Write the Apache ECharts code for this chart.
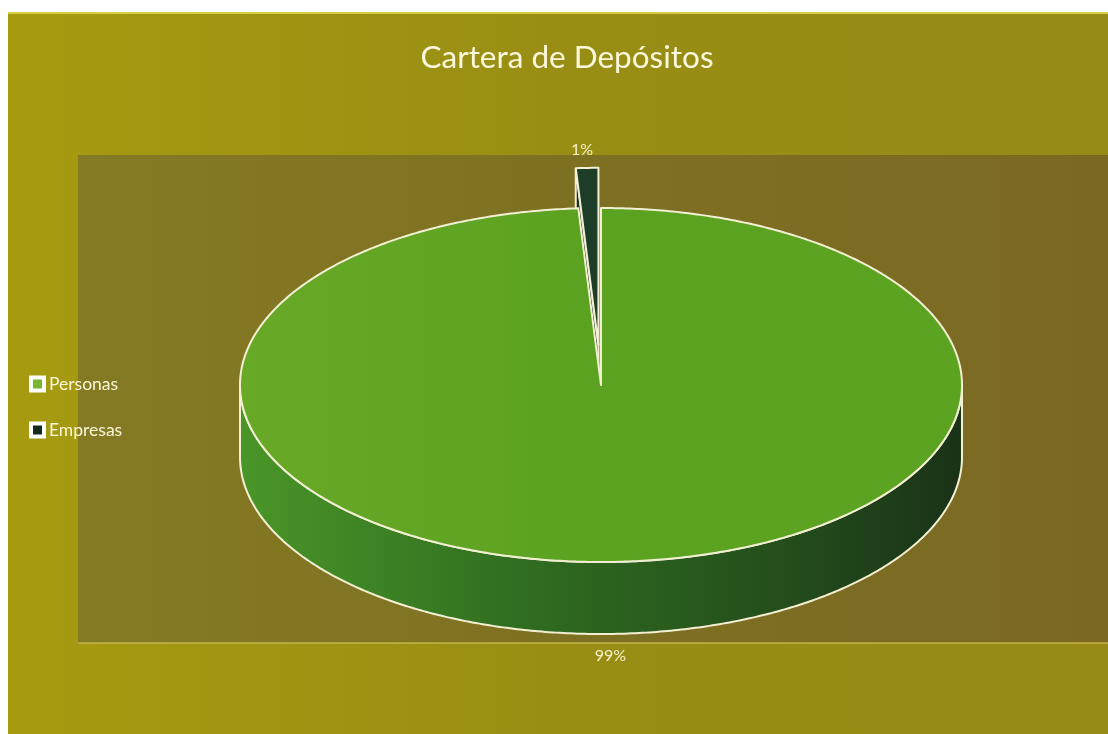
<!DOCTYPE html>
<html>
<head>
<meta charset="utf-8">
<script src="https://cdn.jsdelivr.net/npm/echarts@6/dist/echarts.min.js"></script>
<style>
html,body{margin:0;padding:0;background:#fff;}
#chart{width:1108px;height:734px;}
</style>
</head>
<body>
<div id="chart"></div>
<script>
// ---- data ----
const categories = ['Personas', 'Empresas'];
const values = [99, 1];
const valueLabels = ['99%', '1%'];
const chartTitle = 'Cartera de Depósitos';

// ---- geometry of the 3D pie (layout) ----
const CX = 601, CY = 385, RX = 361, RY = 177, DEPTH = 72;
const FONT = 'Lato, "Open Sans", sans-serif';
const EDGE = '#f3efd2';

const total = values.reduce((a, b) => a + b, 0);
const startAngles = [];
{
  let acc = 0;
  values.forEach(v => { startAngles.push(acc / total * Math.PI * 2); acc += v; });
}

function pt(t, ox, oy, down) {
  return [CX + ox + RX * Math.sin(t), CY + oy - RY * Math.cos(t) + (down || 0)];
}
function arc(a0, a1, ox, oy, down) {
  const pts = [];
  const n = Math.max(2, Math.ceil(Math.abs(a1 - a0) / 0.01));
  for (let i = 0; i <= n; i++) pts.push(pt(a0 + (a1 - a0) * i / n, ox, oy, down));
  return pts;
}

function makeRender(idx, st) {
  return function (params, api) {
    const v = api.value(0);
    const a0 = startAngles[idx];
    const a1 = a0 + v / total * Math.PI * 2;
    const am = (a0 + a1) / 2;
    const ox = st.explode * Math.sin(am);
    const oy = -st.explode * Math.cos(am) * RY / RX;
    const children = [];
    // outer side wall (front half only)
    const s0 = Math.max(a0, Math.PI / 2), s1 = Math.min(a1, Math.PI * 1.5);
    if (s1 > s0) {
      const top = arc(s0, s1, ox, oy, 0);
      const bot = arc(s0, s1, ox, oy, DEPTH).reverse();
      children.push({
        type: 'polygon',
        shape: { points: top.concat(bot) },
        style: {
          fill: { type: 'linear', x: CX - RX, y: 0, x2: CX + RX, y2: 0, global: true,
                  colorStops: st.sideStops },
          stroke: EDGE, lineWidth: 2
        }
      });
    }
    // cut face at start edge (visible when exploded)
    if (st.explode > 0) {
      const c = [CX + ox, CY + oy];
      const e = pt(a0, ox, oy, 0);
      children.push({
        type: 'polygon',
        shape: { points: [c, e, [e[0], e[1] + DEPTH], [c[0], c[1] + DEPTH]] },
        style: { fill: st.cutColor, stroke: EDGE, lineWidth: 2 }
      });
    }
    // top face
    const pts = [[CX + ox, CY + oy]].concat(arc(a0, a1, ox, oy, 0));
    children.push({
      type: 'polygon',
      shape: { points: pts },
      style: {
        fill: { type: 'linear', x: CX - RX, y: 0, x2: CX + RX, y2: 0, global: true,
                colorStops: st.topStops },
        stroke: EDGE, lineWidth: 2, lineJoin: 'round'
      }
    });
    // data label
    const lp = pt(am, ox, oy, 0);
    const back = Math.cos(am) > 0;
    children.push({
      type: 'text',
      style: {
        text: valueLabels[idx],
        x: lp[0] + (back ? -5 : -2),
        y: back ? lp[1] - 18 : lp[1] + DEPTH + 22,
        fill: '#f7f0c8', font: '16px ' + FONT,
        align: 'center', verticalAlign: 'middle'
      }
    });
    return { type: 'group', children: children };
  };
}

const styles = [
  { explode: 0,
    topStops: [{ offset: 0, color: '#68a927' }, { offset: 0.5, color: '#5ba221' }, { offset: 1, color: '#5ca322' }],
    sideStops: [{ offset: 0, color: '#4a9628' }, { offset: 0.4, color: '#2f6c20' }, { offset: 0.75, color: '#244e1c' }, { offset: 1, color: '#1a3217' }],
    cutColor: '#2a5a1e', legendColor: '#7ab830', z: 3 },
  { explode: 82,
    topStops: [{ offset: 0, color: '#1d3d28' }, { offset: 1, color: '#1d3d28' }],
    sideStops: [{ offset: 0, color: '#16301f' }, { offset: 1, color: '#16301f' }],
    cutColor: '#163021', legendColor: '#132a1c', z: 2 }
];

const chart = echarts.init(document.getElementById('chart'), null, { renderer: 'canvas' });
chart.setOption({
  backgroundColor: '#ffffff',
  animation: false,
  graphic: [
    { type: 'rect', z: 0, shape: { x: 8, y: 12, width: 1100, height: 722 },
      style: { fill: { type: 'linear', x: 0, y: 0, x2: 1, y2: 0,
        colorStops: [{ offset: 0, color: '#a69b10' }, { offset: 0.5, color: '#988e14' }, { offset: 1, color: '#958b16' }] } } },
    { type: 'line', z: 0, shape: { x1: 8, y1: 13, x2: 1108, y2: 13 }, style: { stroke: '#d8cc40', lineWidth: 2 } },
    { type: 'rect', z: 0, shape: { x: 78, y: 155, width: 1030, height: 488 },
      style: { fill: { type: 'linear', x: 0, y: 0, x2: 1, y2: 0,
        colorStops: [{ offset: 0, color: '#857a24' }, { offset: 0.5, color: '#7e7022' }, { offset: 1, color: '#7b6923' }] } } },
    { type: 'line', z: 0, shape: { x1: 78, y1: 643, x2: 1108, y2: 643 }, style: { stroke: '#c4b648', lineWidth: 1.5 } },
    { type: 'text', z: 1, style: { text: chartTitle, x: 567, y: 58, align: 'center', verticalAlign: 'middle',
        fill: '#fbf7dc', font: '31.5px ' + FONT } }
  ],
  legend: {
    orient: 'vertical', left: 29, top: 375, padding: 0,
    itemWidth: 13, itemHeight: 13, itemGap: 28,
    textStyle: { color: '#fbf6d6', fontSize: 17.5, fontFamily: FONT },
    data: categories.map((c, i) => ({ name: c, icon: 'rect',
      itemStyle: { color: styles[i].legendColor, borderColor: '#ffffff', borderWidth: 4 } }))
  },
  series: categories.map((c, i) => ({
    type: 'custom', name: c, coordinateSystem: 'none', z: styles[i].z,
    itemStyle: { color: styles[i].legendColor },
    renderItem: makeRender(i, styles[i]),
    data: [values[i]]
  }))
});
</script>
</body>
</html>
